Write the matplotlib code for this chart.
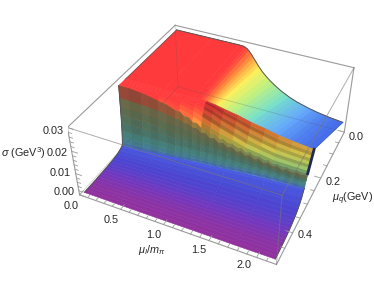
import numpy as np
import matplotlib
matplotlib.use("Agg")
import matplotlib.pyplot as plt
from matplotlib.colors import LinearSegmentedColormap, to_rgb

plt.rcParams["font.family"] = ["Liberation Sans", "DejaVu Sans"]
plt.rcParams["mathtext.fontset"] = "custom"
plt.rcParams["mathtext.rm"] = "Liberation Sans"
plt.rcParams["mathtext.it"] = "Liberation Sans:italic"

# values: mu_I/m_pi, mu_q (GeV), sigma (GeV^3)
# back sheet, smooth part behind the ridge
mu_back = [.03, .5, .85, .9, .925, .95, .975, 1.0, 1.025, 1.05, 1.075, 1.1, 1.125, 1.15, 1.2, 1.25, 1.3,
           1.35, 1.4, 1.45, 1.5, 1.55, 1.6, 1.65, 1.7, 1.75, 1.8, 1.85, 1.9, 1.95, 2.0, 2.05, 2.1, 2.17]
muq_back = [.005, .27]
z_edge = [.0285, .0285, .0285, .0284, .0281, .0276, .0268, .0258, .0246, .0234, .0222, .0210, .0199, .0189,
          .0172, .0157, .0144, .0132, .0121, .0112, .0103, .0096, .0089, .0084, .0079, .0074, .0070, .0066,
          .0063, .0060, .0057, .0055, .0053, .0050]
z_ridge = [.0285, .0285, .0285, .0285, .0285, .0285, .0285, .0285, .0284, .0283, .0282, .0280, .0278, .0276,
           .0272, .0268, .0264, .0260, .0256, .0252, .0248, .0244, .0240, .0236, .0232, .0229, .0226, .0223,
           .0220, .0218, .0216, .0214, .0212, .0210]
c_back = [1, 1, 1, 1, .98, .95, .9, .85, .8, .76, .72, .68, .65, .62, .58, .55, .51, .48, .45, .42, .39, .37,
          .35, .33, .31, .29, .27, .26, .24, .23, .22, .21, .2, .19]

# striped slope in front of the ridge, one line per mu_I
# the last row only lies under the top of the cliff
mu_hatch = [.03, .5, .75, .9, 1.0, 1.1, 1.2, 1.35, 1.5, 1.65, 1.8, 1.95, 2.05, 2.17]
muq_hatch = [.27, .274, .278, .282, .286, .29, .294, .298, .302, .306]
z_hatch = [
    [.0285, .0285, .0285, .0285, .0285, .0285, .0285, .0285, .0285, .0170],
    [.0285, .0285, .0285, .0285, .0285, .0283, .0279, .0274, .0268, .0160],
    [.0285, .0285, .0285, .0284, .0282, .0277, .0268, .0258, .0246, .0150],
    [.0285, .0285, .0284, .0282, .0277, .0268, .0256, .0238, .0218, .0145],
    [.0285, .0284, .0282, .0276, .0268, .0258, .0244, .0224, .0202, .0140],
    [.0280, .0278, .0273, .0266, .0257, .0245, .0230, .0212, .0190, .0135],
    [.0272, .0267, .0260, .0251, .0241, .0230, .0217, .0198, .0178, .0130],
    [.0262, .0254, .0245, .0235, .0224, .0212, .0200, .0186, .0172, .0125],
    [.0248, .0239, .0229, .0218, .0207, .0195, .0182, .0169, .0155, .0120],
    [.0238, .0227, .0216, .0205, .0194, .0183, .0172, .0161, .0150, .0115],
    [.0226, .0215, .0204, .0194, .0183, .0172, .0162, .0151, .0140, .0112],
    [.0218, .0208, .0198, .0188, .0179, .0169, .0159, .0150, .0140, .0112],
    [.0214, .0205, .0195, .0186, .0177, .0168, .0158, .0149, .0140, .0112],
    [.0210, .0201, .0192, .0184, .0175, .0166, .0158, .0149, .0140, .0112],
]

# jagged cliff
mu_cliff = [.03, .15, .3, .4, .5, .6, .7, .75, .8,
            .85, .9, .95, 1.0, 1.05, 1.1, 1.15, 1.2, 1.25,
            1.3, 1.35, 1.4, 1.45, 1.5, 1.55, 1.6, 1.65, 1.7,
            1.75, 1.8, 1.85, 1.9, 1.95, 2.0, 2.05, 2.1, 2.17]
muq_cliff = [.302, .3035, .305, .3065, .308, .31, .312, .314, .316]
z_cliff = [
    [.0285, .0285, .0280, .0274, .0266, .0260, .0246, .0246, .0232,
     .0232, .0216, .0216, .0200, .0202, .0186, .0190, .0174, .0180,
     .0164, .0172, .0156, .0164, .0148, .0157, .0142, .0151, .0136,
     .0146, .0132, .0142, .0128, .0140, .0130, .0140, .0134, .0140],
    [.0235, .0234, .0232, .0230, .0226, .0222, .0214, .0216, .0205,
     .0208, .0196, .0199, .0184, .0188, .0172, .0177, .0162, .0168,
     .0154, .0161, .0147, .0154, .0141, .0149, .0136, .0144, .0132,
     .0140, .0129, .0137, .0126, .0135, .0127, .0135, .0130, .0135],
    [.0195, .0195, .0194, .0193, .0190, .0188, .0183, .0186, .0178,
     .0182, .0172, .0176, .0165, .0170, .0160, .0164, .0152, .0157,
     .0145, .0151, .0139, .0146, .0135, .0142, .0131, .0138, .0128,
     .0134, .0126, .0132, .0124, .0130, .0124, .0130, .0126, .0130],
    [.0160, .0160, .0160, .0159, .0157, .0156, .0152, .0155, .0150,
     .0154, .0148, .0152, .0144, .0149, .0146, .0150, .0141, .0146,
     .0136, .0142, .0132, .0138, .0128, .0135, .0126, .0132, .0124,
     .0130, .0122, .0128, .0121, .0126, .0121, .0126, .0122, .0125],
    [.0125, .0126, .0127, .0128, .0127, .0128, .0126, .0130, .0126,
     .0131, .0127, .0132, .0127, .0133, .0130, .0135, .0127, .0133,
     .0125, .0130, .0122, .0128, .0120, .0126, .0118, .0124, .0117,
     .0123, .0116, .0122, .0115, .0121, .0115, .0121, .0117, .0120],
    [.0090, .0092, .0094, .0096, .0096, .0098, .0098, .0102, .0100,
     .0106, .0102, .0108, .0104, .0110, .0106, .0112, .0106, .0112,
     .0106, .0112, .0106, .0112, .0106, .0112, .0106, .0112, .0106,
     .0112, .0107, .0113, .0107, .0113, .0108, .0113, .0110, .0113],
    [.0060, .0063, .0066, .0068, .0070, .0072, .0074, .0078, .0076,
     .0082, .0080, .0086, .0082, .0088, .0086, .0092, .0088, .0094,
     .0090, .0096, .0092, .0098, .0094, .0100, .0096, .0101, .0098,
     .0102, .0099, .0103, .0100, .0104, .0101, .0105, .0104, .0106],
    [.0038, .0041, .0045, .0048, .0050, .0054, .0056, .0060, .0060,
     .0066, .0064, .0070, .0068, .0074, .0072, .0078, .0074, .0080,
     .0078, .0084, .0082, .0088, .0084, .0090, .0088, .0093, .0090,
     .0095, .0092, .0096, .0094, .0098, .0095, .0099, .0096, .0098],
    [.0026, .0030, .0034, .0038, .0042, .0046, .0050, .0052, .0052,
     .0056, .0056, .0060, .0060, .0062, .0064, .0066, .0066, .0070,
     .0070, .0072, .0074, .0076, .0076, .0078, .0080, .0082, .0082,
     .0084, .0084, .0086, .0086, .0087, .0088, .0088, .0089, .0090],
]
cliff_colors = ["#7a6a48", "#6a6a4a", "#5c6c50", "#52705a", "#4a7468", "#46807c", "#467e90", "#4470a8", "#4a64c0"]

# low apron down to the front edge
mu_apron = [.03, .45, .9, 1.3, 1.75, 2.17]
muq_apron = [.316, .32, .33, .34, .35, .36, .37, .38, .39, .40, .41, .42, .43, .44, .45, .46, .47, .48, .49]
z_apron = [
    [.0026, .0044, .0056, .0070, .0082, .0090],
    [.0022, .0036, .0050, .0062, .0076, .0088],
    [.0016, .0026, .0038, .0048, .0058, .0068],
    [.0012, .0020, .0030, .0038, .0046, .0054],
    [.0010, .0016, .0024, .0031, .0038, .0044],
    [.0008, .0013, .0020, .0025, .0031, .0036],
    [.0007, .0011, .0016, .0021, .0026, .0030],
    [.0006, .0009, .0013, .0017, .0021, .0025],
    [.0005, .0008, .0011, .0014, .0018, .0021],
    [.0005, .0007, .0009, .0012, .0015, .0018],
    [.0004, .0006, .0008, .0010, .0013, .0015],
    [.0004, .0005, .0007, .0009, .0011, .0013],
    [.0004, .0005, .0006, .0008, .0009, .0011],
    [.0003, .0004, .0005, .0007, .0008, .0009],
    [.0003, .0004, .0005, .0006, .0007, .0008],
    [.0003, .0004, .0004, .0005, .0006, .0007],
    [.0003, .0003, .0004, .0005, .0005, .0006],
    [.0003, .0003, .0004, .0004, .0005, .0005],
    [.0003, .0003, .0003, .0004, .0004, .0005],
]
c_apron = [.17, .155, .14, .13, .12, .115, .105, .095, .085, .07, .06, .045, .035, .025, .015, .01, .005, 0, 0]

x_labels = ["0.0", "0.5", "1.0", "1.5", "2.0"]
x_major = [0.0, 0.5, 1.0, 1.5, 2.0]
y_labels = ["0.0", "0.2", "0.4"]
y_major = [0.0, 0.2, 0.4]
z_labels = ["0.00", "0.01", "0.02", "0.03"]
z_major = [0.0, 0.01, 0.02, 0.03]

ZMAX = 0.0285
rainbow = LinearSegmentedColormap.from_list("rb", [
    (0.0, "#91329f"), (0.06, "#7337be"), (0.12, "#4b46d2"), (0.2, "#466eeb"), (0.3, "#64aafa"),
    (0.42, "#78e1c8"), (0.55, "#bef082"), (0.68, "#fff05a"), (0.85, "#ff8c3c"), (1.0, "#ff3a3c")])


def sheet(ax, mu, muq, z, colors, order):
    X, Y = np.meshgrid(mu, muq)
    return ax.plot_surface(X, Y, np.array(z), facecolors=colors, rstride=1, cstride=1, shade=False,
                           linewidth=0.4, antialiased=True, zorder=order)


def px(fig, x, y, s, **kw):
    # labels placed in reference pixels
    fig.text(x / 374, 1 - y / 298, s, fontsize=7.8, color="#262626", va="center", **kw)


fig = plt.figure(figsize=(3.74, 2.98), dpi=100)
ax = fig.add_subplot(projection="3d", computed_zorder=False)
ax.set_position([68.26 / 374, 16.76 / 298, 294.5 / 374, 294.5 / 298])

# back sheet colours go with mu_I only
col_back = rainbow(np.array([c_back, c_back]))
sheet(ax, mu_back, muq_back, [z_edge, z_ridge], col_back, 1)

zh = np.array(z_hatch).T
col_hatch = rainbow(zh / ZMAX)
stripes = np.array([.82, .68, .82, .68, .82, .68, .82, .68, .6, .6])
for j, m in enumerate(mu_hatch):
    if m >= 1.0:
        col_hatch[:, j, :3] *= stripes[:, None]
sheet(ax, mu_hatch, muq_hatch, zh, col_hatch, 2)

col_apron = rainbow(np.array(c_apron)[:, None] * np.ones((1, len(mu_apron))))
sheet(ax, mu_apron, muq_apron, z_apron, col_apron, 3)

zc = np.array(z_cliff)
col_cliff = np.ones(zc.shape + (4,))
col_cliff[:, :, :3] = np.array([to_rgb(c) for c in cliff_colors])[:, None, :]
# the top of the cliff keeps some of the height colour
col_cliff[0, :, :3] = 0.5 * col_cliff[0, :, :3] + 0.5 * 0.7 * rainbow(zc[0] / ZMAX)[:, :3]
col_cliff[:, 1::2, :3] *= 0.95
sheet(ax, mu_cliff, muq_cliff, zc, col_cliff, 4)

# dark outlines of the surface
edge = "#555555"
ax.plot(mu_back, [muq_back[0]] * len(mu_back), z_edge, color=edge, lw=0.7, zorder=5)
ax.plot([mu_back[-1]] * 2, muq_back, [z_edge[-1], z_ridge[-1]], color="#4466cc", lw=0.7, zorder=5)
ax.plot([mu_back[0]] * 2, muq_back, [z_edge[0], z_ridge[0]], color=edge, lw=0.5, zorder=5)
ax.plot([mu_cliff[0]] * 9, muq_cliff, zc[:, 0], color=edge, lw=0.7, zorder=5)
ax.plot([mu_apron[0]] * len(muq_apron), muq_apron, np.array(z_apron)[:, 0], color=edge, lw=0.7, zorder=5)
ax.plot([mu_apron[-1]] * len(muq_apron), muq_apron, np.array(z_apron)[:, -1], color=edge, lw=0.7, zorder=5)
ax.plot([mu_hatch[-1]] * 9, muq_hatch[:9], zh[:9, -1], color="#1c2a55", lw=2.0, zorder=5)

# box
gray = "#9a9a9a"
x0, x1, y0, y1, z0, z1 = 0, 2.2, 0, 0.5, 0, 0.03
for a, b in [((x0, y1, z0), (x1, y1, z0)), ((x1, y1, z0), (x1, y0, z0)), ((x0, y1, z0), (x0, y1, z1)),
             ((x0, y1, z1), (x0, y0, z1)), ((x0, y0, z1), (x1, y0, z1)), ((x1, y0, z1), (x1, y0, z0))]:
    ax.plot(*zip(a, b), color=gray, lw=0.8, zorder=6)
for a, b in [((x0, y1, z1), (x1, y1, z1)), ((x1, y1, z1), (x1, y0, z1)), ((x1, y1, z0), (x1, y1, z1))]:
    ax.plot(*zip(a, b), color="#777777", lw=0.7, alpha=0.6, zorder=6)
for a, b in [((x0, y0, z0), (x1, y0, z0)), ((x0, y0, z0), (x0, y1, z0)), ((x0, y0, z0), (x0, y0, z1))]:
    ax.plot(*zip(a, b), color="#555555", lw=0.6, alpha=0.25, zorder=6)

# ticks
for t in np.arange(0, 2.2, 0.1):
    n = 0.016 if min(abs(t - m) for m in x_major) < 1e-6 else 0.009
    ax.plot([t, t], [y1, y1 - n], [z0, z0], color=gray, lw=0.6, zorder=6)
for t in np.arange(0, 0.5, 0.05):
    n = 0.07 if min(abs(t - m) for m in y_major) < 1e-6 else 0.04
    ax.plot([x1, x1 - n], [t, t], [z0, z0], color=gray, lw=0.6, zorder=6)
for t in np.arange(0, 0.0301, 0.002):
    n = 0.07 if min(abs(t - m) for m in z_major) < 1e-6 else 0.04
    ax.plot([x0, x0 + n], [y1, y1], [t, t], color=gray, lw=0.6, zorder=6)

for lab, x, y in zip(x_labels, [71, 111, 154, 199, 244], [206, 220, 235, 250, 265]):
    px(fig, x, y, lab, ha="center")
for lab, x, y in zip(y_labels, [356, 333, 305], [137, 182, 235]):
    px(fig, x, y, lab, ha="center")
for lab, x, y in zip(z_labels, [75, 71, 68, 64], [192, 173, 153, 131]):
    px(fig, x, y, lab, ha="right")

px(fig, 152, 250, r"$\mu_I/m_\pi$", ha="center")
px(fig, 353, 199, r"$\mu_q$(GeV)", ha="center")
px(fig, 1, 153, r"$\sigma$ (GeV$^3$)", ha="left")

ax.set_xlim(0, 2.2)
ax.set_ylim(0.5, 0)
ax.set_zlim(0, 0.03)
ax.view_init(elev=38.269, azim=-64.915, roll=0)
ax.set_proj_type("persp", focal_length=0.412)
ax.set_box_aspect((1, 0.997, 0.406))
ax.set_axis_off()

fig.savefig("out.png", dpi=100)
